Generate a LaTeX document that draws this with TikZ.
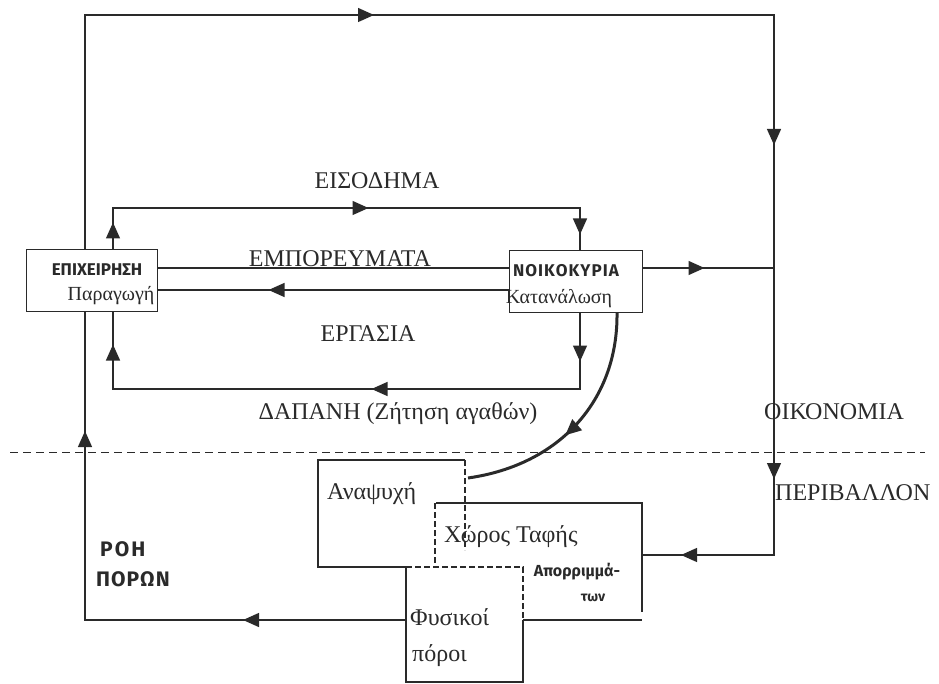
\documentclass[tikz,border=0pt]{standalone}
\usepackage{fontspec}
\setmainfont{Liberation Serif}
\newfontfamily\hand{Fira Sans}
\usetikzlibrary{arrows.meta,decorations.markings,calc}
\definecolor{ink}{HTML}{2A2A2A}
\tikzset{
  myTip/.tip={Triangle[length=16pt,width=14pt]},
  flow/.style={draw=ink, line width=1.3pt},
  thin/.style={draw=ink, line width=1.1pt},
  dashline/.style={draw=ink, line width=1pt, dash pattern=on 8pt off 5pt},
  dashbox/.style={draw=ink, line width=2.4pt, dash pattern=on 6pt off 3pt},
  ah/.style={postaction={decorate,decoration={markings,mark=at position #1 with {\arrow{myTip}}}}},
  box/.style={draw=ink, line width=1pt, fill=white, inner sep=0pt},
  lab/.style={text=ink, font=\fontsize{24}{26}\selectfont, inner sep=0pt},
  sub/.style={text=ink, font=\fontsize{20}{22}\selectfont, inner sep=0pt},
  hw/.style={text=ink, font=\hand\bfseries\fontsize{17}{19}\selectfont, inner sep=0pt},
}
\begin{document}
\begin{tikzpicture}[x=1pt,y=-1pt]
\useasboundingbox (0,0) rectangle (939,684);

% coordinates
\coordinate (xO) at (85,0);
\coordinate (xL) at (113,0);
\coordinate (xR) at (580,0);
\coordinate (xE) at (774,0);
\coordinate (yTop) at (0,15);
\coordinate (yInc) at (0,208);
\coordinate (ySp) at (0,389);
\coordinate (yB) at (0,620);
\coordinate (yW) at (0,555);
\coordinate (fysW) at (406,620);
\coordinate (chorE) at (642,555);
\coordinate (anapE) at (468,478);

% dashed boundary economy / environment
\coordinate (dL) at (10,452);
\coordinate (dR) at (925,452);
\draw[dashline] (dL) -- (dR);

% outer resource loop
\draw[flow, ah=163pt, ah=510pt, ah=1215pt, ah=1745pt, ah=2079pt, ah=2248pt]
  (fysW) -- (xO |- yB) -- (xO |- yTop) -- (xE |- yTop) -- (xE |- yW) -- (chorE);

% boxes
\node[box, minimum width=131pt, minimum height=62pt] (ep) at (91.5,281) {};
\node[box, minimum width=133pt, minimum height=62pt] (no) at (575.5,282) {};

% income loop
\draw[flow, ah=27pt, ah=297pt, ah=535pt]
  (xL |- ep.north) -- (xL |- yInc) -- (xR |- yInc) -- (xR |- no.north);
% spending loop
\draw[flow, ah=48pt, ah=284pt, ah=587pt]
  (xR |- no.south) -- (xR |- ySp) -- (xL |- ySp) -- (xL |- ep.south);
% goods
\coordinate (yG) at (0,268);
\coordinate (yLab) at (0,290);
\draw[flow] (ep.east |- yG) -- (no.west |- yG);
% labour
\draw[flow, ah=240pt] (no.west |- yLab) -- (ep.east |- yLab);
% households to economy line
\draw[flow, ah=62pt] (no.east |- yG) -- (xE |- yG);

% box texts
\node[hw] (epT) at (97,270) {ΕΠΙΧΕΙΡΗΣΗ};
\node[sub] (epS) at (111,296) {Παραγωγή};
\node[hw] (noT) at (566,271) {Ν\kern1pt Ο\kern1pt Ι\kern1pt Κ\kern1pt Ο\kern1pt Κ\kern1pt Υ\kern1pt Ρ\kern1pt Ι\kern1pt Α};
\node[sub] (noS) at (559,299) {Κατανάλωση};

% flow labels
\node[lab] (tInc) at (377,181) {ΕΙΣΟΔΗΜΑ};
\node[lab] (tGoods) at (340,259) {ΕΜΠΟΡΕΥΜΑΤΑ};
\node[lab] (tLab) at (368,334) {ΕΡΓΑΣΙΑ};
\node[lab] (tSp) at (398,414) {ΔΑΠΑΝΗ (Ζήτηση αγαθών)};
\node[lab, anchor=west] (tEco) at (764,412) {ΟΙΚΟΝΟΜΙΑ};
\node[lab, anchor=west] (tEnv) at (775,493) {ΠΕΡΙΒΑΛΛΟΝ};
\node[hw, font=\hand\bfseries\fontsize{21}{23}\selectfont, anchor=west] (tRoh) at (100,549) {Ρ\kern2pt Ο\kern2pt Η};
\node[hw, font=\hand\bfseries\fontsize{21}{23}\selectfont, anchor=west] (tPor) at (96,579) {Π\kern1pt Ο\kern1pt Ρ\kern1pt Ω\kern1pt Ν};

% environment boxes
% Αναψυχή
\draw[thin] (465,460) -- (318,460) -- (318,567) -- (406,567);
\draw[dashbox] (465,460) -- (465,550);
% Χώρος Ταφής
\draw[thin] (436,503) -- (642,503) -- (642,612);
\draw[thin] (523,620) -- (642,620);
\draw[dashbox] (435,503) -- (435,567);
% Φυσικοί πόροι
\draw[thin] (406,567) -- (406,682) -- (523,682) -- (523,620);
\draw[dashbox] (406,567) -- (523,567) -- (523,620);

\node[lab, anchor=west] (tAn) at (327,494) {Αναψυχή};
\node[lab, anchor=west] (tCh) at (444,537) {Χώρος Ταφής};
\node[hw, font=\hand\bfseries\fontsize{16}{18}\selectfont] (tApo) at (577,572) {Απορριμμά-};
\node[hw, font=\hand\bfseries\fontsize{14}{16}\selectfont] (tTon) at (593,598) {των};
\node[lab, anchor=west] (tFy) at (410,617) {Φυσικοί};
\node[lab, anchor=west] (tPo) at (412,656) {πόροι};

% consumption to environment curve
\coordinate (cS) at (617,313);
\draw[draw=ink, line width=3pt, ah=0.56]
  (cS) .. controls (618,400) and (560,465) .. (anapE);
\end{tikzpicture}
\end{document}
